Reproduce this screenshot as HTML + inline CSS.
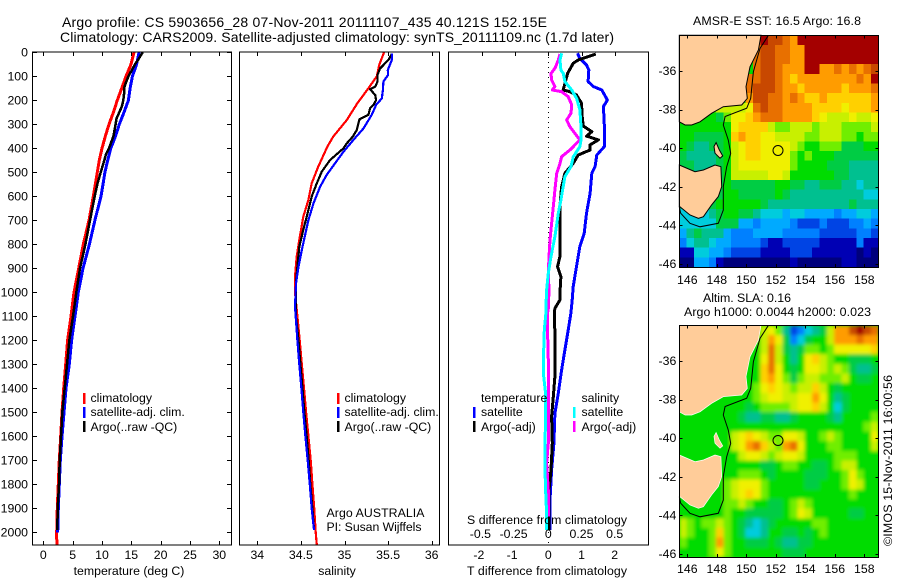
<!DOCTYPE html>
<html><head><meta charset="utf-8"><title>Argo profile</title>
<style>
html,body{margin:0;padding:0;background:#fff;}
svg{display:block;}
text{font-family:"Liberation Sans",sans-serif;font-size:12.3px;fill:#000;}
</style></head>
<body>
<svg id="fig" xmlns="http://www.w3.org/2000/svg" width="900" height="580" viewBox="0 0 900 580">
<defs>
<filter id="smooth" x="-5%" y="-5%" width="110%" height="110%"><feGaussianBlur stdDeviation="1.8"/></filter>
<clipPath id="sla-clip"><rect x="679" y="325" width="199" height="232"/></clipPath>
</defs>
<text x="62" y="27" textLength="485" style="font-size:14px">Argo profile: CS 5903656_28 07-Nov-2011 20111107_435 40.121S 152.15E</text>
<text x="60" y="42" textLength="554" style="font-size:14px">Climatology: CARS2009. Satellite-adjusted climatology: synTS_20111109.nc (1.7d later)</text>
<text x="693" y="25" textLength="168" style="font-size:12.4px">AMSR-E SST: 16.5 Argo: 16.8</text>
<text x="703" y="302" textLength="88" style="font-size:12.4px">Altim. SLA: 0.16</text>
<text x="684" y="316" textLength="187" style="font-size:12.4px">Argo h1000: 0.0044 h2000: 0.023</text>
<text transform="translate(892,546) rotate(-90)" textLength="171" style="font-size:12.4px">©IMOS 15-Nov-2011 16:00:56</text>
<text x="326.5" y="517" textLength="98">Argo AUSTRALIA</text>
<text x="326.5" y="531" textLength="95">PI: Susan Wijffels</text>
</svg>
<script>
// ---------- profile data ----------
const tempClimDepth = [0,50,100,150,200,250,300,350,400,450,500,550,600,700,800,900,1000,1100,1200,1300,1400,1500,1600,1700,1800,1900,2000,2052];
const tempClim = [15.46,14.95,14.1,13.36,12.62,11.94,11.2,10.57,10.0,9.55,9.2,8.87,8.53,7.79,6.82,6.03,5.23,4.72,4.15,3.81,3.47,3.19,2.96,2.73,2.56,2.39,2.28,2.3];
const tempSatDepth = [0,50,100,150,200,250,300,350,400,450,500,550,600,700,800,900,1000,1100,1200,1300,1400,1500,1600,1700,1800,1900,2000];
const tempSat = [16.31,15.9,15.18,14.8,14.5,13.76,12.96,12.3,11.5,10.97,10.5,10.18,9.84,8.8,7.85,6.77,5.97,5.4,4.83,4.44,3.87,3.53,3.19,2.9,2.73,2.56,2.45];
const tempArgoDepth = [0,30,50,75,100,125,150,175,200,225,250,275,300,350,400,425,450,500,550,600,700,800,900,1000,1100,1200,1300,1400,1500,1600,1700,1800,1900,1990];
const tempArgo = [16.94,16.2,15.63,15.06,14.5,14.1,13.76,13.76,13.64,13.4,12.96,12.5,12.33,11.94,11.2,10.69,10.4,9.78,9.2,8.76,7.96,7.17,6.26,5.63,5.06,4.44,4.04,3.64,3.24,3.02,2.79,2.68,2.45,2.39];

const salClimDepth = [0,50,100,150,212,282,351,393,476,546,615,685,782,851,921,1000,1100,1200,1300,1400,1500,1600,1700,1800,1900,2000,2052];
const salClim = [35.454,35.40,35.37,35.274,35.148,35.026,34.872,34.804,34.70,34.624,34.586,34.528,34.482,34.452,34.436,34.432,34.46,34.486,34.51,34.536,34.56,34.586,34.612,34.632,34.652,34.67,34.682];
const salSatDepth = [4,32,74,94,122,157,192,219,261,317,365,414,462,511,560,629,699,761,824,893,963,1060,1100,1200,1300,1400,1500,1600,1700,1800,1900,1990];
const salSat = [35.546,35.542,35.496,35.50,35.446,35.44,35.428,35.362,35.312,35.218,35.102,34.988,34.892,34.796,34.72,34.644,34.586,34.548,34.51,34.472,34.444,34.432,34.44,34.46,34.482,34.506,34.528,34.552,34.578,34.602,34.624,34.65];
const salArgoDepth = [7,32,67,94,122,143,154,178,199,219,233,261,279,324,351,379,400,449,497,546,601,657,740,810,893,956,1018,1101,1200,1300,1400,1500,1600,1700,1800,1900,1990];
const salArgo = [35.542,35.504,35.408,35.378,35.378,35.352,35.294,35.352,35.362,35.332,35.294,35.274,35.172,35.14,35.096,35.026,34.988,34.834,34.74,34.682,34.624,34.586,34.528,34.482,34.46,34.444,34.444,34.444,34.472,34.494,34.518,34.54,34.566,34.59,34.608,34.632,34.65];

const dTempSatDepth = [4,25,53,74,122,143,157,199,226,310,393,428,476,504,588,671,754,810,893,976,1032,1087,1157,1240,1324,1421,1504,1629,1740,1865,1990];
const dTempSat = [0.88,0.95,1.15,1.22,1.2,1.36,1.61,1.78,1.66,1.69,1.69,1.46,1.41,1.31,1.26,1.15,1.08,0.95,0.85,0.75,0.72,0.68,0.6,0.5,0.4,0.3,0.2,0.17,0.1,0.05,0.05];
const dTempArgoDepth = [7,32,46,88,157,164,178,212,268,307,331,349,365,386,407,428,463,504,560,643,726,810,851,893,935,1004,1032,1067,1087,1171,1240,1351,1435,1518,1629,1740,1824,1921,1990];
const dTempArgo = [1.43,0.9,0.75,0.58,0.45,0.65,0.85,1.0,1.02,1.05,1.31,1.15,1.51,1.26,1.26,0.9,0.75,0.5,0.4,0.35,0.35,0.35,0.35,0.28,0.38,0.35,0.35,0.2,0.18,0.2,0.2,0.2,0.15,0.1,0.12,0.08,0.02,0.02,0.02];
const dSalSatDepth = [4,32,74,88,122,157,192,240,310,365,393,435,476,518,615,671,768,851,921,990,1067,1087,1157,1240,1351,1421,1518,1629,1740,1824,1921,1990];
const dSalSat = [0.1,0.088,0.095,0.113,0.125,0.176,0.213,0.238,0.246,0.246,0.238,0.188,0.171,0.125,0.095,0.075,0.05,0.02,0,-0.013,-0.018,-0.018,-0.03,-0.035,-0.035,-0.02,-0.02,-0.025,-0.025,-0.02,-0.013,-0.013];
const dSalArgoDepth = [7,32,67,88,115,143,157,164,185,219,254,282,310,338,365,393,407,435,463,504,574,643,713,782,851,921,990,1067,1087,1171,1282,1379,1490,1629,1712,1824,1935];
const dSalArgo = [0.088,0.075,0.05,0.02,0.025,0.05,0.03,0.1,0.15,0.176,0.171,0.138,0.163,0.2,0.238,0.188,0.163,0.1,0.088,0.063,0.05,0.038,0.025,0.013,0.005,0,0.005,0,-0.005,-0.005,0,0,0,0,-0.013,0,0];

const depthTicks = [0,100,200,300,400,500,600,700,800,900,1000,1100,1200,1300,1400,1500,1600,1700,1800,1900,2000];
const tempTicks = [0,5,10,15,20,25,30];
const salTicks = [34,34.5,35,35.5,36];
const dTempTicks = [-2,-1,0,1,2];
const dSalTicks = [-0.5,-0.25,0,0.25,0.5];
const lonTicks = [146,148,150,152,154,156,158];
const latTicks = [-36,-38,-40,-42,-44,-46];

// ---------- map data (colour level per half-degree cell) ----------
const sstRows = [
[8,8,8,8,8,8,8,8,8,8,14,16,15,15,14,13,16,16,16,16,16,16,16,16,16,16,16],
[8,8,8,8,8,8,8,8,8,8,14,15,15,14,14,13,13,16,16,16,16,16,16,16,16,16,16],
[8,8,8,8,8,8,8,8,8,8,14,15,15,14,14,13,13,16,16,16,16,16,16,16,16,16,16],
[8,8,8,8,8,8,8,8,8,8,14,15,15,14,13,13,13,16,16,13,13,14,13,14,13,14,15],
[8,8,8,8,8,8,8,8,8,14,14,15,15,14,13,12,13,13,13,13,13,13,13,13,14,13,16],
[8,8,8,8,8,8,8,8,8,14,15,15,15,14,13,13,12,13,13,13,13,13,12,13,13,13,14],
[8,8,8,8,8,8,8,8,8,13,15,15,14,14,13,14,13,12,12,13,12,12,12,12,12,12,13],
[8,8,8,8,9,10,10,10,10,11,14,15,14,14,13,13,13,13,12,12,12,12,11,12,12,12,13],
[8,8,8,8,8,7,9,11,11,12,13,14,14,14,13,13,13,13,12,11,10,10,10,11,10,10,11],
[8,8,8,8,8,8,8,11,12,12,12,12,10,9,9,10,10,10,9,10,10,10,9,9,9,9,10],
[8,8,7,7,7,7,8,12,13,12,12,11,11,10,10,10,10,9,9,10,10,10,9,9,8,9,9],
[8,7,6,6,7,7,8,10,11,12,12,11,11,11,11,10,9,8,8,9,9,9,7,7,7,8,8],
[7,6,6,6,6,7,8,10,11,12,12,11,11,11,11,9,8,9,8,8,8,7,7,7,7,7,7],
[7,7,6,6,6,7,8,10,11,11,11,11,11,11,11,9,8,8,8,8,7,7,7,6,6,6,6],
[7,7,6,6,6,7,8,10,10,10,10,10,11,11,10,8,8,8,8,8,8,7,7,6,6,6,6],
[7,7,6,6,7,7,8,7,7,7,7,7,7,8,8,7,7,6,6,7,7,7,6,6,5,6,6],
[7,7,6,6,7,7,8,8,7,7,7,7,7,8,7,6,6,6,6,6,6,6,6,6,6,5,5],
[6,6,6,6,7,8,8,8,8,8,8,7,6,6,6,6,6,6,6,6,6,6,6,7,6,6,6],
[5,5,5,5,6,7,8,8,7,7,6,5,5,5,4,5,5,4,4,4,4,3,4,4,5,5,4],
[5,5,5,5,5,7,7,7,4,4,3,4,4,4,4,3,2,2,2,3,2,2,2,3,3,4,3],
[4,6,7,6,6,6,4,3,3,3,4,4,4,4,3,3,3,3,3,2,2,2,2,2,3,3,2],
[3,5,6,6,5,4,4,3,3,3,3,2,1,1,2,2,2,2,2,1,1,1,1,1,3,1,1],
[1,1,5,5,4,4,3,2,2,2,2,1,1,1,1,2,2,2,1,1,1,1,1,1,0,1,0],
[0,0,4,4,3,1,0,0,0,0,0,0,0,0,0,1,0,0,0,0,0,0,1,1,0,0,0]
];
const slaRows = [
[8,8,8,8,8,8,8,8,8,8,8,10,11,9,6,2,3,5,6,7,10,13,13,15,16,15,14],
[8,8,8,8,8,8,8,8,8,8,8,10,13,11,7,3,5,7,8,8,10,13,13,13,14,13,13],
[8,8,8,8,8,8,8,8,8,8,8,10,14,10,7,6,7,9,9,8,9,11,11,11,11,11,12],
[8,8,8,8,8,8,8,8,8,8,8,11,14,10,8,6,8,11,12,10,9,8,8,7,7,7,8],
[8,8,8,8,8,8,8,8,8,8,8,12,14,11,8,7,8,11,11,10,9,10,9,7,6,6,7],
[8,8,8,8,8,8,8,8,8,8,8,12,13,11,9,7,9,10,10,9,9,9,10,8,7,7,8],
[8,8,8,8,8,8,8,8,8,8,9,11,12,11,10,9,10,10,12,10,8,7,8,8,8,8,8],
[8,8,8,8,8,8,8,8,8,8,9,10,11,11,10,10,11,11,13,11,8,6,7,8,8,8,8],
[8,8,8,8,8,8,8,8,8,7,8,9,9,9,9,10,11,11,12,10,8,5,7,8,8,8,8],
[8,8,8,8,8,8,8,8,7,6,6,7,7,6,6,7,8,8,8,8,7,6,8,8,8,8,9],
[8,8,8,8,8,8,8,8,8,8,8,8,8,8,8,8,8,8,8,8,8,8,8,8,8,9,10],
[8,8,8,8,8,8,8,10,11,12,11,10,9,9,11,11,10,8,8,9,10,9,8,8,8,8,11],
[8,8,8,8,8,8,8,10,11,13,14,12,10,9,13,14,11,8,8,8,9,9,8,8,8,8,10],
[8,8,8,8,8,8,8,8,10,11,11,10,9,10,11,11,10,8,8,8,8,9,9,9,8,8,8],
[8,8,8,8,8,8,8,8,8,8,8,7,7,8,9,9,8,8,7,7,8,9,10,10,8,8,8],
[8,8,8,8,8,8,8,8,9,9,9,8,7,8,8,8,8,7,7,7,8,8,9,11,9,8,8],
[8,8,8,8,8,8,9,10,11,11,11,9,8,8,8,8,8,7,7,8,8,8,9,11,10,8,8],
[8,8,8,8,8,8,9,10,11,12,11,9,8,8,8,8,8,8,8,8,8,8,8,9,8,8,8],
[8,8,8,8,8,8,9,9,10,9,8,8,7,7,8,9,10,9,8,8,8,8,8,8,8,8,8],
[8,8,8,8,8,8,9,8,8,7,7,7,7,7,8,9,11,10,8,8,8,8,8,7,7,8,8],
[10,9,8,9,9,10,9,8,7,6,5,6,7,8,8,8,8,8,9,9,8,8,8,8,8,8,8],
[10,9,8,8,9,12,9,8,7,5,5,6,8,8,7,7,8,7,8,9,8,8,8,8,8,8,8],
[9,8,8,8,9,13,9,8,8,7,7,7,8,7,6,6,7,7,8,8,8,8,8,8,8,8,8],
[8,8,8,8,9,11,9,8,8,8,8,8,8,8,7,7,7,8,8,8,8,8,8,8,8,8,8]
];
const landMainLon = [145.46,151.0,150.82,150.25,149.98,150.07,149.69,148.44,147.65,146.86,146.3,145.85,145.46];
const landMainLat = [-34.15,-34.15,-34.91,-35.78,-36.81,-37.42,-37.76,-37.85,-38.19,-38.63,-38.8,-38.8,-38.63];
const landTasLon = [145.46,146.52,147.09,147.88,148.28,148.33,148.1,147.65,147.09,146.75,146.18,145.5,145.46];
const landTasLat = [-40.87,-41.22,-41.13,-40.87,-40.96,-41.99,-42.51,-42.94,-43.55,-43.63,-43.46,-43.03,-43.03];
const landIslLon = [147.95,148.17,148.4,148.22,147.88,147.81];
const landIslLat = [-39.71,-40.09,-40.4,-40.52,-40.26,-39.91];
const shelfLon = [151.5,150.93,150.48,150.3,150.03,148.56,148.44,148.78,148.94,148.67,148.44,148.44,148.1,146.86,146.18,145.55,145.46];
const shelfLat = [-34.15,-34.83,-36.03,-37.42,-37.93,-38.36,-38.8,-39.58,-40.27,-40.96,-41.99,-43.2,-43.89,-44.07,-43.89,-43.37,-43.03];
const argoLon = [152.15];
const argoLat = [-40.121];
const levelColors = ['#00007c','#0000b4','#0044e4','#0080ff','#00aaff','#00ccdd','#00c090','#00cc44','#00dc00','#70ee00','#c8f000','#f0f000','#ffd000','#ff9c00','#e87000','#c84800','#a40000'];

// ---------- helpers ----------
const svg = document.getElementById('fig');
const NS = 'http://www.w3.org/2000/svg';
function node(tag, name, attrs, parent) {
  const el = document.createElementNS(NS, tag);
  
  
  for (const k in attrs) el.setAttribute(k, attrs[k]);
  (parent || svg).appendChild(el);
  return el;
}
function label(name, x, y, str, anchor) {
  const t = node('text', name, {x: x, y: y, 'text-anchor': anchor || 'middle'});
  t.textContent = str;
  return t;
}
const yDepth = d => 52.3 + 0.24 * d;
const xTemp = v => 43.3 + 5.867 * v;
const xSal = v => 257.3 + 87.2 * (v - 34);
const xDT = v => 548.3 + 33.2 * v;
const xDS = v => 548.3 + 132.8 * v;

function curve(name, xs, depth, color, w, sx) {
  const pts = xs.map((v, i) => sx(v).toFixed(1) + ',' + yDepth(depth[i]).toFixed(1)).join(' ');
  node('polyline', name, {points: pts, fill: 'none', stroke: color, 'stroke-width': w, 'stroke-linejoin': 'round', 'shape-rendering': 'crispEdges'});
}
function frame(name, x0, x1, y0, y1) {
  node('rect', name, {x: x0, y: y0, width: x1 - x0, height: y1 - y0, fill: 'none', stroke: '#000', 'stroke-width': 1, 'shape-rendering': 'crispEdges'});
}
function tick(name, x1, y1, x2, y2) {
  node('line', name, {x1: x1, y1: y1, x2: x2, y2: y2, stroke: '#000', 'stroke-width': 1, 'shape-rendering': 'crispEdges'});
}
function legendMark(name, x, y, color) {
  node('rect', name, {x: x, y: y, width: 2.6, height: 11, fill: color, 'shape-rendering': 'crispEdges'});
}
const TOP = 52, BOT = 545;

// ---------- panel 1: temperature ----------
curve('temperature-climatology-line', tempClim, tempClimDepth, '#ff0000', 3, xTemp);
curve('temperature-satellite-line', tempSat, tempSatDepth, '#0000ff', 3, xTemp);
curve('temperature-argo-line', tempArgo, tempArgoDepth, '#000000', 2.5, xTemp);
frame('temperature-axes', 32.5, 231.5, TOP, BOT);
depthTicks.forEach(d => {
  tick('temperature-depth-tick-left', 32.5, Math.round(yDepth(d)) + 0.5, 37, Math.round(yDepth(d)) + 0.5);
  tick('temperature-depth-tick-right', 227, Math.round(yDepth(d)) + 0.5, 231.5, Math.round(yDepth(d)) + 0.5);
  label('depth-tick-label', 28, yDepth(d) + 4, String(d), 'end');
});
tempTicks.forEach(t => {
  tick('temperature-tick-top', Math.round(xTemp(t)) + 0.5, TOP, Math.round(xTemp(t)) + 0.5, TOP + 4);
  tick('temperature-tick-bottom', Math.round(xTemp(t)) + 0.5, BOT - 4, Math.round(xTemp(t)) + 0.5, BOT);
  label('temperature-tick-label', xTemp(t), 559, String(t));
});
label('temperature-axis-title', 129, 575, 'temperature (deg C)');

// ---------- panel 2: salinity ----------
curve('salinity-climatology-line', salClim, salClimDepth, '#ff0000', 2.2, xSal);
curve('salinity-argo-line', salArgo, salArgoDepth, '#000000', 2.2, xSal);
curve('salinity-satellite-line', salSat, salSatDepth, '#0000ff', 2.2, xSal);
frame('salinity-axes', 239.5, 439.5, TOP, BOT);
salTicks.forEach(t => {
  tick('salinity-tick-top', Math.round(xSal(t)) + 0.5, TOP, Math.round(xSal(t)) + 0.5, TOP + 4);
  tick('salinity-tick-bottom', Math.round(xSal(t)) + 0.5, BOT - 4, Math.round(xSal(t)) + 0.5, BOT);
  label('salinity-tick-label', xSal(t), 559, String(t));
});
label('salinity-axis-title', 337, 575, 'salinity');

// ---------- panel 3: differences ----------
node('line', 'zero-difference-line', {x1: 548.5, y1: TOP, x2: 548.5, y2: BOT, stroke: '#000', 'stroke-width': 1, 'stroke-dasharray': '1 4', 'shape-rendering': 'crispEdges'});
curve('temperature-difference-satellite-line', dTempSat, dTempSatDepth, '#0000ff', 3, xDT);
curve('temperature-difference-argo-line', dTempArgo, dTempArgoDepth, '#000000', 3, xDT);
curve('salinity-difference-argo-line', dSalArgo, dSalArgoDepth, '#ff00ff', 3, xDS);
curve('salinity-difference-satellite-line', dSalSat, dSalSatDepth, '#00ffff', 3, xDS);
frame('difference-axes', 448.5, 648.5, TOP, BOT);
dTempTicks.forEach(t => {
  tick('difference-tick-top', Math.round(xDT(t)) + 0.5, TOP, Math.round(xDT(t)) + 0.5, TOP + 4);
  label('temperature-difference-tick-label', xDT(t) - (t < 0 ? 3 : 0), 559, String(t));
});
dSalTicks.forEach(t => {
  label('salinity-difference-tick-label', xDS(t) - (t < 0 ? 1.5 : 0), 538, String(t));
});
label('salinity-difference-axis-title', 547, 524, 'S difference from climatology').setAttribute('textLength', '160');
label('temperature-difference-axis-title', 547, 575, 'T difference from climatology').setAttribute('textLength', '160');

// ---------- legends ----------
legendMark('legend-mark-climatology', 83, 393, '#ff0000');
legendMark('legend-mark-satellite', 83, 407, '#0000ff');
legendMark('legend-mark-argo', 83, 421, '#000000');
label('legend-climatology', 90.5, 402, 'climatology', 'start');
label('legend-satellite-adj', 90.5, 416, 'satellite-adj. clim.', 'start');
label('legend-argo-raw', 90.5, 431, 'Argo(..raw -QC)', 'start');
legendMark('salinity-legend-mark-climatology', 337, 393, '#ff0000');
legendMark('salinity-legend-mark-satellite', 337, 407, '#0000ff');
legendMark('salinity-legend-mark-argo', 337, 421, '#000000');
label('salinity-legend-climatology', 344.5, 402, 'climatology', 'start');
label('salinity-legend-satellite-adj', 344.5, 416, 'satellite-adj. clim.', 'start');
label('salinity-legend-argo-raw', 344.5, 431, 'Argo(..raw -QC)', 'start');
label('difference-legend-temperature', 481, 402, 'temperature', 'start');
label('difference-legend-t-satellite', 481, 416, 'satellite', 'start');
label('difference-legend-t-argo', 481, 431, 'Argo(-adj)', 'start');
label('difference-legend-salinity', 581.5, 402, 'salinity', 'start');
label('difference-legend-s-satellite', 581.5, 416, 'satellite', 'start');
label('difference-legend-s-argo', 581.5, 431, 'Argo(-adj)', 'start');
legendMark('difference-legend-mark-t-satellite', 473, 407, '#0000ff');
legendMark('difference-legend-mark-t-argo', 473, 421, '#000000');
legendMark('difference-legend-mark-s-satellite', 573, 407, '#00ffff');
legendMark('difference-legend-mark-s-argo', 573, 421, '#ff00ff');

// ---------- maps ----------
const LON0 = 145.46, LAT0 = -34.15, CELL = 0.5;
const xLon = lon => 687.3 + 14.75 * (lon - 146);
function drawMap(prefix, rows, y36, coastColor, labelY, smooth) {
  const yLat = lat => y36 + 19.3 * (-36 - lat);
  const top = yLat(LAT0), bot = yLat(LAT0 - rows.length * CELL);
  const left = xLon(LON0), right = xLon(LON0 + rows[0].length * CELL);
  let holder = svg;
  if (smooth) {
    const clip = node('g', prefix + '-clip-group', {'clip-path': 'url(#sla-clip)'});
    node('rect', prefix + '-background', {x: left, y: top, width: right - left, height: bot - top, fill: levelColors[8]}, clip);
    holder = node('g', prefix + '-cells', {filter: 'url(#smooth)'}, clip);
  }
  rows.forEach((row, r) => row.forEach((level, c) => {
    node('rect', prefix + '-cell', {
      x: xLon(LON0 + c * CELL).toFixed(2),
      y: yLat(LAT0 - r * CELL).toFixed(2),
      width: (14.75 * CELL + 0.4).toFixed(2),
      height: (19.3 * CELL + 0.4).toFixed(2),
      fill: levelColors[level],
      'shape-rendering': 'crispEdges'
    }, holder);
  }));
  const poly = (xs, ys) => xs.map((v, i) => xLon(v).toFixed(1) + ',' + yLat(ys[i]).toFixed(1)).join(' ');
  const coastWidth = smooth ? 0.7 : 1;
  node('polygon', prefix + '-land-mainland', {points: poly(landMainLon, landMainLat), fill: '#ffcc99', stroke: coastColor, 'stroke-width': coastWidth});
  node('polygon', prefix + '-land-tasmania', {points: poly(landTasLon, landTasLat), fill: '#ffcc99', stroke: coastColor, 'stroke-width': coastWidth});
  node('polygon', prefix + '-land-island', {points: poly(landIslLon, landIslLat), fill: '#ffcc99', stroke: coastColor, 'stroke-width': coastWidth});
  node('polyline', prefix + '-shelf-contour', {points: poly(shelfLon, shelfLat), fill: 'none', stroke: '#000', 'stroke-width': 1});
  node('circle', prefix + '-argo-location', {cx: xLon(argoLon[0]).toFixed(1), cy: yLat(argoLat[0]).toFixed(1), r: 5, fill: 'none', stroke: '#000', 'stroke-width': 1});
  frame(prefix + '-axes', Math.round(left) + 0.5, Math.round(right) + 0.5, Math.round(top) + 0.5, Math.round(bot) + 0.5);
  lonTicks.forEach(t => {
    const x = Math.round(xLon(t)) + 0.5;
    tick(prefix + '-lon-tick-top', x, top, x, top + 3);
    tick(prefix + '-lon-tick-bottom', x, bot - 3, x, bot);
    label(prefix + '-lon-label', xLon(t), labelY, String(t));
  });
  latTicks.forEach(t => {
    const y = Math.round(yLat(t)) + 0.5;
    tick(prefix + '-lat-tick-left', left, y, left + 3, y);
    tick(prefix + '-lat-tick-right', right - 3, y, right, y);
    label(prefix + '-lat-label', left - 3, yLat(t) + 4, String(t), 'end');
  });
}
drawMap('sst-map', sstRows, 71, '#000', 284, false);
drawMap('sla-map', slaRows, 361, '#fff', 573, true);
</script>
</body></html>
